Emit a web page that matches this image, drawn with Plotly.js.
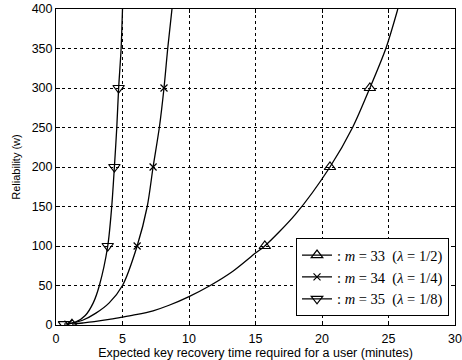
<!DOCTYPE html>
<html>
<head>
<meta charset="utf-8">
<script src="https://cdn.plot.ly/plotly-3.0.1.min.js"></script>
<style>html,body{margin:0;padding:0;background:#fff;}#chart{width:462px;height:360px;}</style>
</head>
<body>
<div id="chart"></div>
<script>
// Series: m = 33 (lambda = 1/2)
const m33X = [1.2, 2, 3, 4, 5, 6, 7.3, 8.5, 10, 11.6, 13.3, 15, 15.7, 18, 20.6, 22.3, 23.6, 24.8, 25.7];
const m33Y = [1, 2.5, 4.5, 7, 10, 13, 18, 25, 36, 50, 68, 91, 100, 140, 200, 250, 300, 350, 400];
// Series: m = 34 (lambda = 1/4)
const m34X = [0.9, 2, 3, 4, 5, 6.1, 6.86, 7.3, 7.77, 8.12, 8.4, 8.72];
const m34Y = [1, 6, 15, 28, 50, 100, 150, 200, 250, 300, 350, 400];
// Series: m = 35 (lambda = 1/8)
const m35X = [0.6, 1.5, 2.2, 2.8, 3.26, 3.89, 4.19, 4.39, 4.57, 4.71, 4.89, 5.0];
const m35Y = [1, 4, 12, 28, 50, 100, 150, 200, 250, 300, 348, 400];
// Reliability values at which markers are shown
const markedW = [1, 100, 200, 300];
const legendNames = [
  ': <i>m</i> = 33  (<i>λ</i> = 1/2)',
  ': <i>m</i> = 34  (<i>λ</i> = 1/4)',
  ': <i>m</i> = 35  (<i>λ</i> = 1/8)'
];
const xTicks = [0, 5, 10, 15, 20, 25, 30];
const yTicks = [0, 50, 100, 150, 200, 250, 300, 350, 400];

function marked(ys) {
  const idx = [];
  ys.forEach((v, i) => { if (markedW.indexOf(v) >= 0) idx.push(i); });
  return idx;
}
function mk(x, y, name, symbol, s) {
  return {
    x: x, y: y, name: name, type: 'scatter', mode: 'lines+markers',
    line: {color: '#000', width: 1.3, shape: 'spline', smoothing: 0.8},
    marker: {symbol: symbol, size: s, color: '#000', line: {color: '#000', width: 1.2}},
    selectedpoints: marked(y),
    selected: {marker: {opacity: 1}},
    unselected: {marker: {opacity: 0}},
    cliponaxis: true
  };
}
const data = [
  mk(m33X, m33Y, legendNames[0], 'triangle-up-open', 10),
  mk(m34X, m34Y, legendNames[1], 'x-thin-open', 7),
  mk(m35X, m35Y, legendNames[2], 'triangle-down-open', 10)
];
const sans = 'Liberation Sans, Arial, sans-serif';
const axFont = {family: sans, size: 12.5, color: '#000'};
const layout = {
  width: 462, height: 360,
  margin: {l: 56, r: 7, t: 9, b: 35},
  paper_bgcolor: '#fff', plot_bgcolor: '#fff',
  showlegend: true,
  legend: {
    x: 0.985, y: 0.028, xanchor: 'right', yanchor: 'bottom',
    bgcolor: '#fff', bordercolor: '#000', borderwidth: 1,
    font: {family: 'Liberation Serif, Times New Roman, serif', size: 14.5, color: '#000'},
    tracegroupgap: 0
  },
  xaxis: {
    range: [0, 30], tickvals: xTicks, ticktext: xTicks.map(String),
    showgrid: true, gridcolor: '#000', gridwidth: 1, griddash: '3px,3px',
    zeroline: false, showline: true, linecolor: '#000', linewidth: 1, mirror: 'ticks',
    ticks: 'inside', ticklen: 4, tickcolor: '#000',
    tickfont: axFont, ticklabelstandoff: 2,
    title: {text: 'Expected key recovery time required for a user (minutes)', font: {family: sans, size: 12.5, color: '#000'}, standoff: 1}
  },
  yaxis: {
    range: [0, 400], tickvals: yTicks, ticktext: yTicks.map(String),
    showgrid: true, gridcolor: '#000', gridwidth: 1, griddash: '3px,3px',
    zeroline: false, showline: true, linecolor: '#000', linewidth: 1, mirror: 'ticks',
    ticks: 'inside', ticklen: 4, tickcolor: '#000',
    tickfont: axFont,
    title: {text: 'Reliability (w)', font: {family: sans, size: 11, color: '#000'}, standoff: 8}
  }
};
Plotly.newPlot('chart', data, layout, {displayModeBar: false, staticPlot: true});
</script>
</body>
</html>
